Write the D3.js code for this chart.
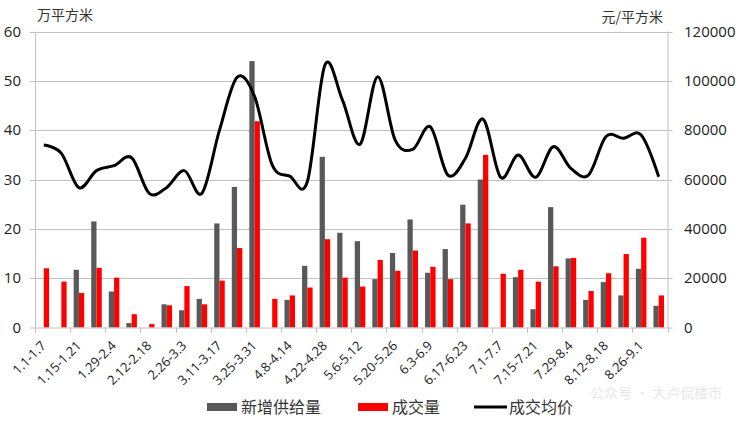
<!DOCTYPE html>
<html><head><meta charset="utf-8">
<script src="https://cdn.jsdelivr.net/npm/d3@7"></script>
<style>
html,body{margin:0;padding:0;background:#fff;}
svg{display:block;}
</style></head>
<body>
<svg id="c" width="740" height="423"></svg>
<script>
const categories = ["1.1-1.7","1.8-1.14","1.15-1.21","1.22-1.28","1.29-2.4","2.5-2.11","2.12-2.18","2.19-2.25","2.26-3.3","3.4-3.10","3.11-3.17","3.18-3.24","3.25-3.31","4.1-4.7","4.8-4.14","4.15-4.21","4.22-4.28","4.29-5.5","5.6-5.12","5.13-5.19","5.20-5.26","5.27-6.2","6.3-6.9","6.10-6.16","6.17-6.23","6.24-6.30","7.1-7.7","7.8-7.14","7.15-7.21","7.22-7.28","7.29-8.4","8.5-8.11","8.12-8.18","8.19-8.25","8.26-9.1","9.2-9.8"];
const supply = [null,null,11.7,21.5,7.3,0.9,null,4.7,3.5,5.8,21.1,28.5,54,null,5.6,12.5,34.6,19.2,17.5,9.8,15.1,21.9,11.1,15.9,24.9,30,null,10.2,3.7,24.4,14.0,5.6,9.2,6.5,11.9,4.4];
const deal = [12,9.3,7.0,12.1,10.1,2.7,0.7,4.5,8.4,4.7,9.5,16.1,41.8,5.8,6.5,8.1,17.9,10.1,8.3,13.7,11.5,15.6,12.3,9.8,21.1,35.0,10.9,11.7,9.3,12.4,14.1,7.4,11.0,14.9,18.2,6.5];
const price = [74000,70600,56700,63600,65600,68800,54400,56800,63600,54400,80000,101400,93600,65900,61400,59100,106400,92200,74300,101700,76000,72200,81400,61800,68600,84500,60900,69900,60900,73300,64500,61800,77400,76700,78000,61100];
const leftTicks = [0,10,20,30,40,50,60];
const rightTicks = [0,20000,40000,60000,80000,100000,120000];
const seriesNames = ["新增供给量","成交量","成交均价"];
const leftUnit = "万平方米", rightUnit = "元/平方米";

const svg = d3.select("#c");
const L = 35, R = 667.5, T = 31.5, B = 327.5;
const x = d3.scaleBand().domain(categories).range([L, R]).padding(0);
const yL = d3.scaleLinear().domain([0, 60]).range([B, T]);
const yR = d3.scaleLinear().domain([0, 120000]).range([B, T]);
const bw = x.bandwidth() * 0.3;
const cx = c => x(c) + x.bandwidth() / 2;
const gridColor = "#c0c0c0";
const numFont = "'Open Sans', sans-serif";
const cjkFont = "'Noto Sans CJK SC', sans-serif";

// gridlines
svg.append("g").selectAll("line").data(leftTicks.filter(d => d > 0)).join("line")
  .attr("x1", L - 5).attr("x2", R + 5)
  .attr("y1", d => Math.round(yL(d)) + 0.5).attr("y2", d => Math.round(yL(d)) + 0.5)
  .attr("stroke", gridColor).attr("stroke-width", 1);

// vertical axis lines
svg.append("line").attr("x1", L + 0.5).attr("x2", L + 0.5).attr("y1", T).attr("y2", B)
  .attr("stroke", gridColor);
svg.append("line").attr("x1", R + 0.5).attr("x2", R + 0.5).attr("y1", T).attr("y2", B)
  .attr("stroke", gridColor);

// bars
svg.append("g").selectAll("rect").data(categories.map((c, i) => ({c, v: supply[i]})).filter(d => d.v != null)).join("rect")
  .attr("x", d => cx(d.c) - bw).attr("width", bw)
  .attr("y", d => yL(d.v)).attr("height", d => B - yL(d.v))
  .attr("fill", "#595959");
svg.append("g").selectAll("rect").data(categories.map((c, i) => ({c, v: deal[i]})).filter(d => d.v != null)).join("rect")
  .attr("x", d => cx(d.c)).attr("width", bw)
  .attr("y", d => yL(d.v)).attr("height", d => B - yL(d.v))
  .attr("fill", "#ff0000");

// x axis baseline
svg.append("line").attr("x1", L - 5).attr("x2", R + 5)
  .attr("y1", B + 0.5).attr("y2", B + 0.5).attr("stroke", gridColor);
// x ticks every 2 categories
const tickXs = categories.filter((c, i) => i % 2 === 0).map(c => x(c)).concat([R]);
svg.append("g").selectAll("line").data(tickXs).join("line")
  .attr("x1", d => Math.round(d) + 0.5).attr("x2", d => Math.round(d) + 0.5)
  .attr("y1", B).attr("y2", B + 5.5).attr("stroke", gridColor);

// x labels
svg.append("g").selectAll("text").data(categories.filter((c, i) => i % 2 === 0)).join("text")
  .attr("transform", d => `translate(${cx(d) + 3},${B + 19}) rotate(-45)`)
  .attr("text-anchor", "end").attr("font-family", numFont).attr("font-size", 13)
  .attr("fill", "#222").text(d => d);

// left tick labels
svg.append("g").selectAll("text").data(leftTicks).join("text")
  .attr("x", 21).attr("y", d => yL(d)).attr("dy", "0.35em")
  .attr("text-anchor", "end").attr("font-family", numFont).attr("font-size", 15)
  .attr("fill", "#222").text(d => d);
// right tick labels
svg.append("g").selectAll("text").data(rightTicks).join("text")
  .attr("x", 684).attr("y", d => yR(d)).attr("dy", "0.35em")
  .attr("text-anchor", "start").attr("font-family", numFont).attr("font-size", 15)
  .attr("fill", "#222").text(d => d);

// unit labels
svg.append("text").attr("x", 37).attr("y", 20).attr("font-family", cjkFont).attr("font-size", 14)
  .attr("fill", "#333").text(leftUnit);
svg.append("text").attr("x", 663).attr("y", 22).attr("text-anchor", "end").attr("font-family", cjkFont).attr("font-size", 14)
  .attr("fill", "#333").text(rightUnit);

// price line
const line = d3.line().x((d, i) => cx(categories[i])).y(d => yR(d)).curve(d3.curveCardinal.tension(0));
svg.append("path").datum(price).attr("d", line).attr("fill", "none")
  .attr("stroke", "#000").attr("stroke-width", 3).attr("stroke-linejoin", "round");

// watermark
svg.append("text").attr("x", 590).attr("y", 398).attr("font-family", cjkFont).attr("font-size", 14)
  .attr("fill", "#e8e8e8").text("公众号 · 大卢侃楼市");

// legend
const lg = svg.append("g");
lg.append("rect").attr("x", 207).attr("y", 403).attr("width", 30).attr("height", 8).attr("fill", "#595959");
lg.append("text").attr("x", 241).attr("y", 413).attr("font-family", cjkFont).attr("font-size", 16).attr("fill", "#333").text(seriesNames[0]);
lg.append("rect").attr("x", 358).attr("y", 403).attr("width", 30).attr("height", 8).attr("fill", "#ff0000");
lg.append("text").attr("x", 392).attr("y", 413).attr("font-family", cjkFont).attr("font-size", 16).attr("fill", "#333").text(seriesNames[1]);
lg.append("line").attr("x1", 474).attr("x2", 507).attr("y1", 407).attr("y2", 407).attr("stroke", "#000").attr("stroke-width", 3);
lg.append("text").attr("x", 509).attr("y", 413).attr("font-family", cjkFont).attr("font-size", 16).attr("fill", "#333").text(seriesNames[2]);
</script>
</body></html>
